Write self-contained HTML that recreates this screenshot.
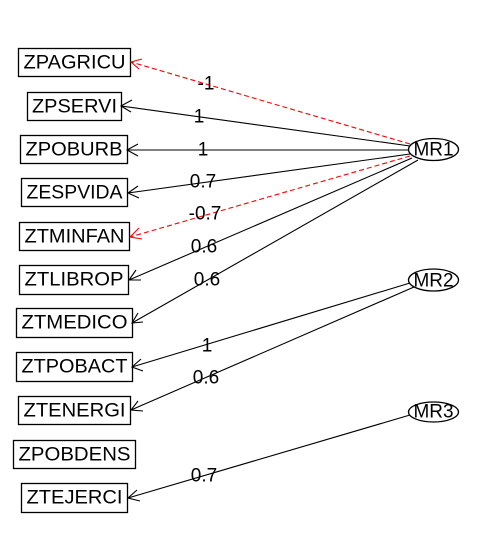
<!DOCTYPE html>
<html><head><style>body{margin:0;background:#fff}</style></head><body>
<svg width="480" height="554" xmlns="http://www.w3.org/2000/svg" font-family="Liberation Sans, sans-serif">
<rect width="480" height="554" fill="#fff"/>
<g fill="none" stroke="#000" stroke-width="1.3">
<rect x="18.5" y="48.5" width="112" height="28"/>
<rect x="27.5" y="92.5" width="94" height="28"/>
<rect x="20.5" y="135.5" width="107" height="28"/>
<rect x="21.5" y="178.5" width="106" height="28"/>
<rect x="19.5" y="222.5" width="110" height="28"/>
<rect x="19.5" y="265.5" width="109" height="29"/>
<rect x="16.5" y="308.5" width="116" height="29"/>
<rect x="16.5" y="352.5" width="116" height="29"/>
<rect x="18.5" y="396.5" width="112" height="28"/>
<rect x="13.5" y="440.5" width="122" height="28"/>
<rect x="21.5" y="483.5" width="106" height="29"/>
<ellipse cx="433.5" cy="149.5" rx="25" ry="11"/>
<ellipse cx="433.5" cy="280" rx="25" ry="11"/>
<ellipse cx="433.5" cy="412" rx="25" ry="10"/>
</g>
<g font-size="19" text-anchor="middle" dominant-baseline="central">
<text x="74.5" y="63" textLength="102" lengthAdjust="spacingAndGlyphs">ZPAGRICU</text>
<text x="74.5" y="107" textLength="85" lengthAdjust="spacingAndGlyphs">ZPSERVI</text>
<text x="74" y="150" textLength="97" lengthAdjust="spacingAndGlyphs">ZPOBURB</text>
<text x="74.5" y="193" textLength="96" lengthAdjust="spacingAndGlyphs">ZESPVIDA</text>
<text x="74.5" y="237" textLength="100" lengthAdjust="spacingAndGlyphs">ZTMINFAN</text>
<text x="74" y="280" textLength="99" lengthAdjust="spacingAndGlyphs">ZTLIBROP</text>
<text x="74.5" y="323" textLength="106" lengthAdjust="spacingAndGlyphs">ZTMEDICO</text>
<text x="74.5" y="367" textLength="106" lengthAdjust="spacingAndGlyphs">ZTPOBACT</text>
<text x="74.5" y="411" textLength="102" lengthAdjust="spacingAndGlyphs">ZTENERGI</text>
<text x="74.5" y="455" textLength="112" lengthAdjust="spacingAndGlyphs">ZPOBDENS</text>
<text x="74.5" y="498" textLength="96" lengthAdjust="spacingAndGlyphs">ZTEJERCI</text>
<text x="433.5" y="150" textLength="40" lengthAdjust="spacingAndGlyphs">MR1</text>
<text x="433.5" y="281" textLength="40" lengthAdjust="spacingAndGlyphs">MR2</text>
<text x="433.5" y="412" textLength="40" lengthAdjust="spacingAndGlyphs">MR3</text>
</g>
<g stroke="#000" stroke-width="1.1" fill="none">
<path d="M410,146 L121,106 M132,100 L121,106 L131,112"/>
<path d="M409,150 L127,150 M138,144 L127,150 L138,156"/>
<path d="M410,154 L128,193 M138,186 L128,193 L139,198"/>
<path d="M412,158 L129,280 M136,270 L129,280 L141,280"/>
<path d="M418,160 L132,323 M138,313 L132,323 L143,322"/>
<path d="M410,283 L132,367 M141,359 L132,367 L143,371"/>
<path d="M414,287 L131,410 M138,401 L131,410 L143,411"/>
<path d="M410,415 L128,498 M137,490 L128,498 L140,501"/>
</g>
<g stroke="#f00" stroke-width="1.1" fill="none" stroke-dasharray="5,3">
<path d="M410,144 L131,62"/>
<path d="M410,156 L130,237"/>
</g>
<g stroke="#f00" stroke-width="1.1" fill="none">
<path d="M142,59 L131,62 L139,69"/>
<path d="M139,228 L130,237 L142,239"/>
</g>
<g font-size="19" text-anchor="middle" dominant-baseline="central">
<text x="206" y="84">-1</text>
<text x="199" y="117">1</text>
<text x="203" y="150">1</text>
<text x="203" y="182">0.7</text>
<text x="205" y="214">-0.7</text>
<text x="204" y="247">0.6</text>
<text x="207" y="280">0.6</text>
<text x="207" y="346">1</text>
<text x="206" y="378">0.6</text>
<text x="204" y="476">0.7</text>
</g>
</svg>
</body></html>
